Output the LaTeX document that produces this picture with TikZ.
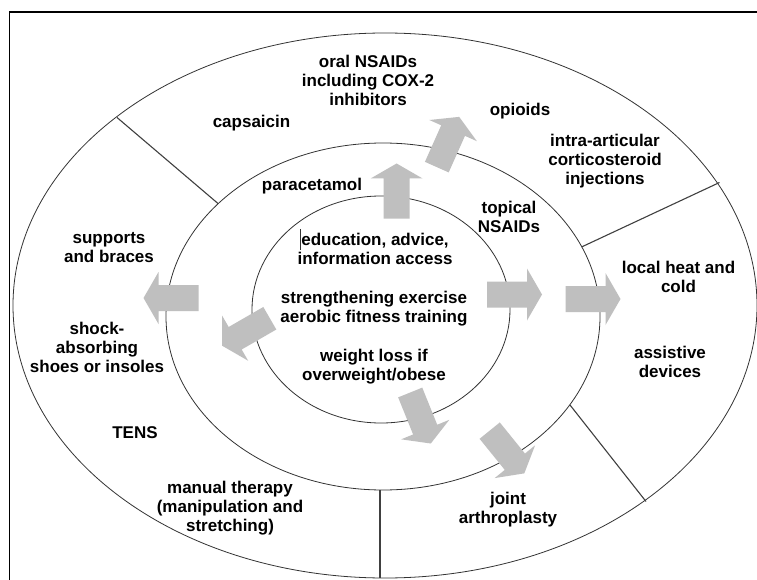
\documentclass[tikz,border=0pt]{standalone}
\usepackage{fontspec}
\setmainfont{Liberation Sans}
\newcommand\lstrut{\rule[-3.6pt]{0pt}{16.1pt}}
\tikzset{
  lbl/.style={font=\bfseries\fontsize{17}{19}\selectfont, align=center, inner sep=0pt, text=black},
  ring/.style={draw=black!80, line width=0.8pt},
  spoke/.style={draw=black!75, line width=1.1pt},
  frameline/.style={draw=black, line width=1.6pt},
  blockarrow/.style={fill=black!25, draw=none},
}
\newcommand\barrow[4]{%
  \coordinate (#1) at (#2,#3);
  \fill[blockarrow, shift={(#1)}, rotate=#4] (-27.5,-13) -- (12.5,-13) -- (12.5,-26) -- (27.5,0) -- (12.5,26) -- (12.5,13) -- (-27.5,13) -- cycle;}
\begin{document}
\begin{tikzpicture}[x=1pt,y=-1pt]
\fill[white] (0,0) rectangle (757,580);
\useasboundingbox (0,0) rectangle (757,580);

% frame
\draw[frameline] (9.5,580) -- (9.5,12) -- (757,12);

% rings
\draw[ring] (385,305.5) ellipse [x radius=372pt, y radius=272.5pt];
\draw[ring] (383,316.5) ellipse [x radius=217pt, y radius=173.5pt];
\draw[ring] (381,309.5) ellipse [x radius=129pt, y radius=113.5pt];

% spokes
\coordinate (s1a) at (218,203.5); \coordinate (s1b) at (117,117.5);
\coordinate (s2a) at (581.5,247); \coordinate (s2b) at (719.5,182.5);
\coordinate (s3a) at (570,405);   \coordinate (s3b) at (646,501.5);
\coordinate (s4a) at (380,490);   \coordinate (s4b) at (380,578);
\draw[spoke] (s1a) -- (s1b);
\draw[spoke] (s2a) -- (s2b);
\draw[spoke] (s3a) -- (s3b);
\draw[spoke] (s4a) -- (s4b);

% block arrows
\barrow{a1}{396.6}{191}{90}
\barrow{a2}{448}{142}{66}
\barrow{a3}{514.5}{294.5}{0}
\barrow{a4}{593}{299}{0}
\barrow{a5}{171}{298}{180}
\barrow{a6}{246}{332}{210}
\barrow{a7}{420.5}{418}{-68}
\barrow{a8}{507}{452}{-51}

% labels
\node[lbl] (oral) at (368,82) {\lstrut oral NSAIDs\\including COX-2\\inhibitors\lstrut};
\node[lbl] (caps) at (251.5,123) {\lstrut capsaicin};
\node[lbl] (opio) at (520,111) {\lstrut opioids};
\node[lbl] (intra) at (605,161) {\lstrut intra-articular\\corticosteroid\\injections\lstrut};
\node[lbl] (para) at (312,186) {\lstrut paracetamol};
\node[lbl] (topi) at (509,219) {\lstrut topical\\NSAIDs\lstrut};
\node[lbl] (educ) at (375,250.5) {\lstrut education, advice,\\information access\lstrut};
\draw[line width=0.7pt, black!80] (300.5,229) -- (300.5,250);
\node[lbl] (stre) at (374,308.5) {\lstrut strengthening exercise\\aerobic fitness training\lstrut};
\node[lbl] (weig) at (374,367) {\lstrut weight loss if\\overweight/obese\lstrut};
\node[lbl] (supp) at (109,248.5) {\lstrut supports\\and braces\lstrut};
\node[lbl] (shoc) at (97,349.5) {\lstrut shock-\\absorbing\\shoes or insoles\lstrut};
\node[lbl] (tens) at (135,434.5) {\lstrut TENS};
\node[lbl] (manu) at (230,508.5) {\lstrut manual therapy\\(manipulation and\\stretching)\lstrut};
\node[lbl] (heat) at (678.5,278.5) {\lstrut local heat and\\cold\lstrut};
\node[lbl] (assi) at (670,364) {\lstrut assistive\\devices\lstrut};
\node[lbl] (join) at (508,510) {\lstrut joint\\arthroplasty\lstrut};
\end{tikzpicture}
\end{document}
